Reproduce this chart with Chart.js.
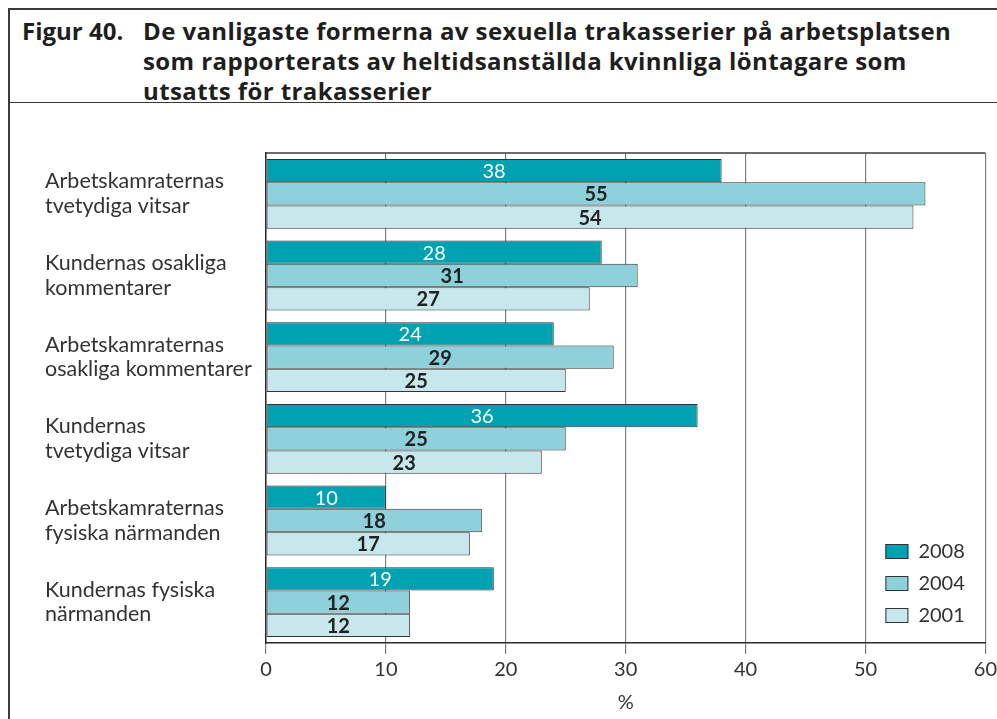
<!DOCTYPE html>
<html lang="sv">
<head>
    <meta charset="UTF-8">
    <title>Figur 40</title>
    <script src="https://cdn.jsdelivr.net/npm/chart.js"></script>
    <style>
        body {
            margin: 0;
            background: #fff;
            font-family: 'Lato', 'DejaVu Sans', sans-serif;
            width: 997px;
            height: 719px;
            overflow: hidden;
            position: relative;
        }
        .frame {
            position: absolute;
            left: 8px;
            top: 8px;
            width: 1000px;
            height: 720px;
            border-left: 2px solid #3a3a3a;
            border-top: 2px solid #3a3a3a;
        }
        .title {
            height: 93px;
            border-bottom: 1.5px solid #3a3a3a;
            display: flex;
            padding: 6px 0 0 12px;
            box-sizing: border-box;
            font-family: 'Open Sans', 'Lato', sans-serif;
            font-weight: bold;
            font-size: 24px;
            letter-spacing: 0.4px;
            line-height: 30px;
            color: #1e1e1e;
            white-space: nowrap;
        }
        .title .num {
            width: 121px;
            flex: none;
            letter-spacing: 0;
        }
        .chart-box {
            position: absolute;
            left: 10px;
            top: 104px;
            width: 991px;
            height: 615px;
        }
    </style>
</head>
<body>
    <div class="frame">
        <div class="title">
            <div class="num">Figur 40.</div>
            <div class="txt">De vanligaste formerna av sexuella trakasserier på arbetsplatsen<br>som rapporterats av heltidsanställda kvinnliga löntagare som<br>utsatts för trakasserier</div>
        </div>
    </div>
    <div class="chart-box">
        <canvas id="harassChart"></canvas>
    </div>

    <script>
        // Kategorier och andelar (%) per år
        const categories = [
            ['Arbetskamraternas', 'tvetydiga vitsar'],
            ['Kundernas osakliga', 'kommentarer'],
            ['Arbetskamraternas', 'osakliga kommentarer'],
            ['Kundernas', 'tvetydiga vitsar'],
            ['Arbetskamraternas', 'fysiska närmanden'],
            ['Kundernas fysiska', 'närmanden']
        ];
        const years = ['2008', '2004', '2001'];
        const values2008 = [38, 28, 24, 36, 10, 19];
        const values2004 = [55, 31, 29, 25, 18, 12];
        const values2001 = [54, 27, 25, 23, 17, 12];
        const xTicks = [0, 10, 20, 30, 40, 50, 60];

        const fills = ['#00a2b1', '#8ed1da', '#c6e7ec'];
        const labelColors = ['#ffffff', '#222222', '#222222'];
        const fontFamily = "'Lato', 'DejaVu Sans', sans-serif";

        // Siffror mitt i staplarna
        const barLabels = {
            id: 'barLabels',
            afterDatasetsDraw(chart) {
                const ctx = chart.ctx;
                ctx.save();
                ctx.textAlign = 'center';
                ctx.textBaseline = 'middle';
                chart.data.datasets.forEach((ds, i) => {
                    const meta = chart.getDatasetMeta(i);
                    ctx.fillStyle = labelColors[i];
                    ctx.font = (i === 0 ? '' : 'bold ') + '20px ' + fontFamily;
                    meta.data.forEach((bar, j) => {
                        const cx = (bar.x + bar.base) / 2;
                        ctx.fillText(String(ds.data[j]), cx, bar.y + 1);
                    });
                });
                ctx.restore();
            }
        };

        // Ram överst och teckenförklaring nere till höger
        const frameAndLegend = {
            id: 'frameAndLegend',
            afterDraw(chart) {
                const ctx = chart.ctx;
                const a = chart.chartArea;
                ctx.save();
                ctx.strokeStyle = '#3a3a3a';
                ctx.lineWidth = 1.5;
                ctx.beginPath();
                ctx.moveTo(a.left, a.top);
                ctx.lineTo(a.right, a.top);
                ctx.stroke();

                ctx.font = '20px ' + fontFamily;
                ctx.textBaseline = 'middle';
                ctx.textAlign = 'left';
                chart.data.datasets.forEach((ds, i) => {
                    const bx = a.right - 100;
                    const by = a.bottom - 99 + i * 32;
                    ctx.fillStyle = ds.backgroundColor;
                    ctx.fillRect(bx, by, 23, 15);
                    ctx.strokeStyle = '#333';
                    ctx.lineWidth = 1;
                    ctx.strokeRect(bx + 0.5, by + 0.5, 22, 14);
                    ctx.fillStyle = '#333';
                    ctx.fillText(ds.label, bx + 33, by + 8);
                });
                ctx.restore();
            }
        };

        new Chart(document.getElementById('harassChart'), {
            type: 'bar',
            data: {
                labels: categories,
                datasets: [
                    { label: years[0], data: values2008, backgroundColor: fills[0] },
                    { label: years[1], data: values2004, backgroundColor: fills[1] },
                    { label: years[2], data: values2001, backgroundColor: fills[2] }
                ]
            },
            options: {
                indexAxis: 'y',
                responsive: true,
                maintainAspectRatio: false,
                animation: false,
                layout: { padding: { left: 35, right: 0, top: 49, bottom: 0 } },
                datasets: {
                    bar: {
                        categoryPercentage: 0.855,
                        barPercentage: 1,
                        borderColor: '#333',
                        borderWidth: 1,
                        borderSkipped: false
                    }
                },
                plugins: {
                    legend: { display: false },
                    tooltip: { enabled: false }
                },
                scales: {
                    x: {
                        min: 0,
                        max: 60,
                        afterBuildTicks(scale) {
                            scale.ticks = xTicks.map(v => ({ value: v }));
                        },
                        afterFit(scale) { scale.height = 76; },
                        grid: {
                            color: '#808080',
                            lineWidth: 1.2,
                            tickLength: 11,
                            tickColor: '#808080'
                        },
                        border: { color: '#2a2a2a', width: 1.5 },
                        ticks: {
                            color: '#333',
                            padding: 4,
                            font: { family: fontFamily, size: 20 }
                        },
                        title: {
                            display: true,
                            text: '%',
                            color: '#333',
                            padding: { top: 6 },
                            font: { family: fontFamily, size: 20 }
                        }
                    },
                    y: {
                        afterFit(scale) { scale.width = 221; },
                        grid: { display: false },
                        border: { color: '#2a2a2a', width: 1.5 },
                        ticks: {
                            crossAlign: 'far',
                            color: '#333',
                            font: { family: fontFamily, size: 21.5, lineHeight: 1.15 }
                        }
                    }
                }
            },
            plugins: [barLabels, frameAndLegend]
        });
    </script>
</body>
</html>
